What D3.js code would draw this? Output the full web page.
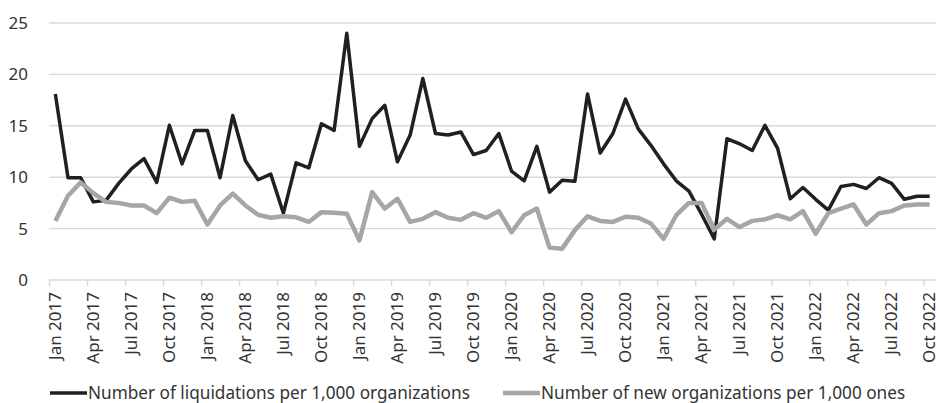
<!DOCTYPE html>
<html>
<head>
<meta charset="utf-8">
<script src="https://cdn.jsdelivr.net/npm/d3@7"></script>
<style>
  body { margin: 0; background: #fff; }
  svg text { font-family: "Noto Sans", sans-serif; fill: #333; }
</style>
</head>
<body>
<svg id="chart" width="939" height="403"></svg>
<script>
// monthly categories, Jan 2017 .. Oct 2022
const months = ['Jan', 'Feb', 'Mar', 'Apr', 'May', 'Jun', 'Jul', 'Aug', 'Sep', 'Oct', 'Nov', 'Dec'];
const categories = d3.range(70).map(i => months[i % 12] + ' ' + (2017 + Math.floor(i / 12)));

const liquidations = [
  18.1, 9.95, 9.95, 7.6, 7.75, 9.4, 10.8, 11.8, 9.5, 15.05, 11.3, 14.55,
  14.55, 9.95, 16.0, 11.6, 9.75, 10.3, 6.5, 11.4, 10.9, 15.2, 14.55, 24.0,
  13.0, 15.7, 17.0, 11.5, 14.1, 19.6, 14.25, 14.1, 14.4, 12.2, 12.6, 14.25,
  10.6, 9.65, 13.0, 8.55, 9.7, 9.6, 18.1, 12.35, 14.25, 17.6, 14.7, 13.1,
  11.3, 9.65, 8.65, 6.4, 4.0, 13.75, 13.25, 12.6, 15.05, 12.8, 7.9, 9.0,
  7.85, 6.8, 9.1, 9.3, 8.9, 9.95, 9.4, 7.85, 8.15, 8.15
];
const newOrgs = [
  5.75, 8.2, 9.5, 8.45, 7.6, 7.5, 7.25, 7.25, 6.5, 8.0, 7.6, 7.7,
  5.4, 7.25, 8.4, 7.25, 6.35, 6.05, 6.2, 6.1, 5.65, 6.6, 6.55, 6.45,
  3.85, 8.55, 6.95, 7.9, 5.65, 5.95, 6.6, 6.05, 5.85, 6.5, 6.05, 6.7,
  4.65, 6.3, 6.95, 3.15, 3.05, 4.85, 6.2, 5.75, 5.65, 6.15, 6.05, 5.5,
  4.0, 6.3, 7.5, 7.5, 4.9, 5.95, 5.15, 5.75, 5.9, 6.3, 5.9, 6.7,
  4.5, 6.5, 6.95, 7.35, 5.4, 6.5, 6.7, 7.25, 7.35, 7.35
];
const yTicks = [0, 5, 10, 15, 20, 25];
const seriesNames = ['Number of liquidations per 1,000 organizations', 'Number of new organizations per 1,000 ones'];

const svg = d3.select('#chart');
const margin = { left: 49, right: 936, top: 23, bottom: 280 };

// category axis as a linear index scale: point i sits in the middle of its slot
const x = d3.scaleLinear().domain([0, categories.length]).range([margin.left, margin.right]);
const y = d3.scaleLinear().domain([0, 25]).range([margin.bottom, margin.top]);

// gridlines
svg.append('g')
  .selectAll('line')
  .data(yTicks)
  .join('line')
  .attr('x1', margin.left).attr('x2', margin.right)
  .attr('y1', d => y(d)).attr('y2', d => y(d))
  .attr('stroke', '#d9d9d9')
  .attr('stroke-width', 1.4);

// y labels
svg.append('g')
  .selectAll('text')
  .data(yTicks)
  .join('text')
  .attr('x', 28)
  .attr('y', d => y(d))
  .attr('dy', '0.35em')
  .attr('text-anchor', 'end')
  .style('font-size', '17px')
  .text(d => d);

// tick marks every 3rd category boundary
const tickIdx = d3.range(0, categories.length, 3);
const xAxis = d3.axisBottom(x).tickValues(tickIdx).tickSize(6).tickFormat('');
const gx = svg.append('g').attr('transform', `translate(0,${margin.bottom})`).call(xAxis);
gx.select('.domain').remove();
gx.selectAll('.tick line').attr('stroke', '#d9d9d9').attr('stroke-width', 1.4);

// rotated category labels
svg.append('g')
  .selectAll('text')
  .data(tickIdx)
  .join('text')
  .attr('transform', i => `translate(${x(i + 0.5)},292) rotate(-90)`)
  .attr('dy', '0.33em')
  .attr('text-anchor', 'end')
  .style('font-size', '17px')
  .text(i => categories[i]);

const line = d3.line()
  .x((d, i) => x(i + 0.5))
  .y(d => y(d));

svg.append('path')
  .datum(liquidations)
  .attr('d', line)
  .attr('fill', 'none')
  .attr('stroke', '#231f20')
  .attr('stroke-width', 3.5)
  .attr('stroke-linejoin', 'round');

svg.append('path')
  .datum(newOrgs)
  .attr('d', line)
  .attr('fill', 'none')
  .attr('stroke', '#a6a6a6')
  .attr('stroke-width', 4.5)
  .attr('stroke-linejoin', 'round');

// legend
const legend = [
  { name: seriesNames[0], color: '#231f20', w: 3.5, x: 50 },
  { name: seriesNames[1], color: '#a6a6a6', w: 4.5, x: 503 }
];
const lg = svg.append('g').selectAll('g').data(legend).join('g')
  .attr('transform', d => `translate(${d.x},393)`);
lg.append('line')
  .attr('x1', 0).attr('x2', 37)
  .attr('stroke', d => d.color)
  .attr('stroke-width', d => d.w);
lg.append('text')
  .attr('x', 38)
  .attr('dy', '0.35em')
  .style('font-size', '17.2px')
  .text(d => d.name);
</script>
</body>
</html>
